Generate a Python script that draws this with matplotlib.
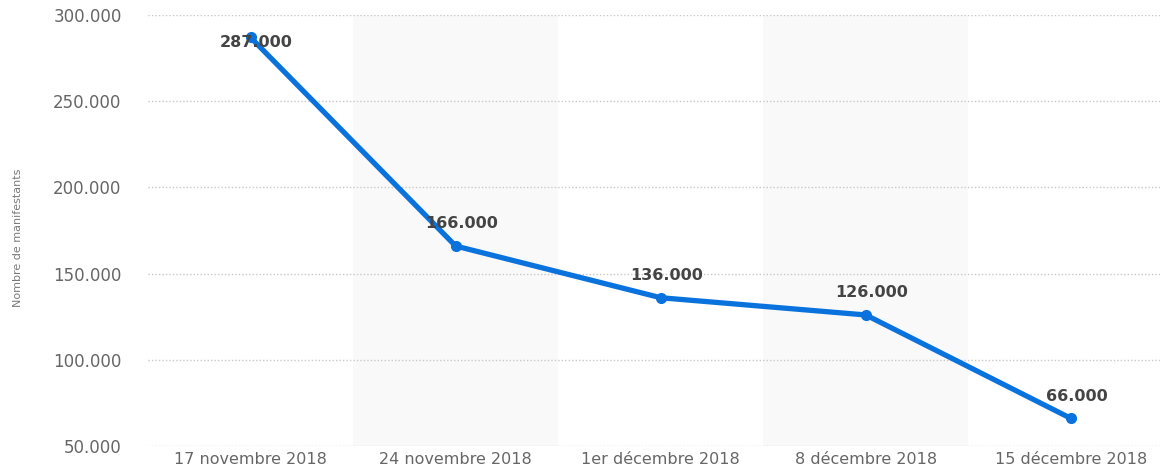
import matplotlib
matplotlib.use("Agg")
import matplotlib.pyplot as plt
from matplotlib.ticker import FuncFormatter

# data
dates = ["17 novembre 2018", "24 novembre 2018", "1er décembre 2018",
         "8 décembre 2018", "15 décembre 2018"]
manifestants = [287000, 166000, 136000, 126000, 66000]
y_ticks = [50000, 100000, 150000, 200000, 250000, 300000]

plt.rcParams["font.family"] = ["DejaVu Sans"]

def fmt_fr(v, pos=None):
    return f"{int(v):,}".replace(",", ".")

fig = plt.figure(figsize=(11.6, 4.75), dpi=100)
ax = fig.add_axes([148 / 1160, 29 / 475, 1 - 148 / 1160, 431 / 475])

x = list(range(len(dates)))

# alternating shaded columns
for i in x:
    if i % 2 == 1:
        ax.axvspan(i - 0.5, i + 0.5, color="#f9f9f9", zorder=0, lw=0)

ax.plot(x, manifestants, color="#0a72dc", lw=3.8, marker="o", ms=7,
        solid_capstyle="round", zorder=3, clip_on=False)

# value labels
for i, v in zip(x, manifestants):
    dy = -4 if i == 0 else 16
    ax.annotate(fmt_fr(v), (i, v), xytext=(4, dy), textcoords="offset points",
                ha="center", va="center", fontsize=11.5, fontweight="bold",
                color="#444444", zorder=4)

ax.set_xlim(-0.5, (1160 - 251) / 205)
ax.set_ylim(50000, 300000)
ax.set_yticks(y_ticks)
ax.yaxis.set_major_formatter(FuncFormatter(fmt_fr))
ax.set_xticks(x)
ax.set_xticklabels(dates)

ax.grid(axis="y", linestyle=(0, (1, 1.5)), color="#c8c8c8", lw=1)
ax.set_axisbelow(True)
for s in ax.spines.values():
    s.set_visible(False)
ax.tick_params(axis="both", length=0, colors="#666666")
ax.tick_params(axis="y", pad=19, labelsize=12)
ax.tick_params(axis="x", pad=4, labelsize=11.5)

fig.text(18 / 1160, 0.5, "Nombre de manifestants", rotation=90,
         ha="center", va="center", fontsize=8, color="#7a7a7a",
         family=["Liberation Sans Narrow", "DejaVu Sans"])

fig.savefig("out.png", dpi=100)
